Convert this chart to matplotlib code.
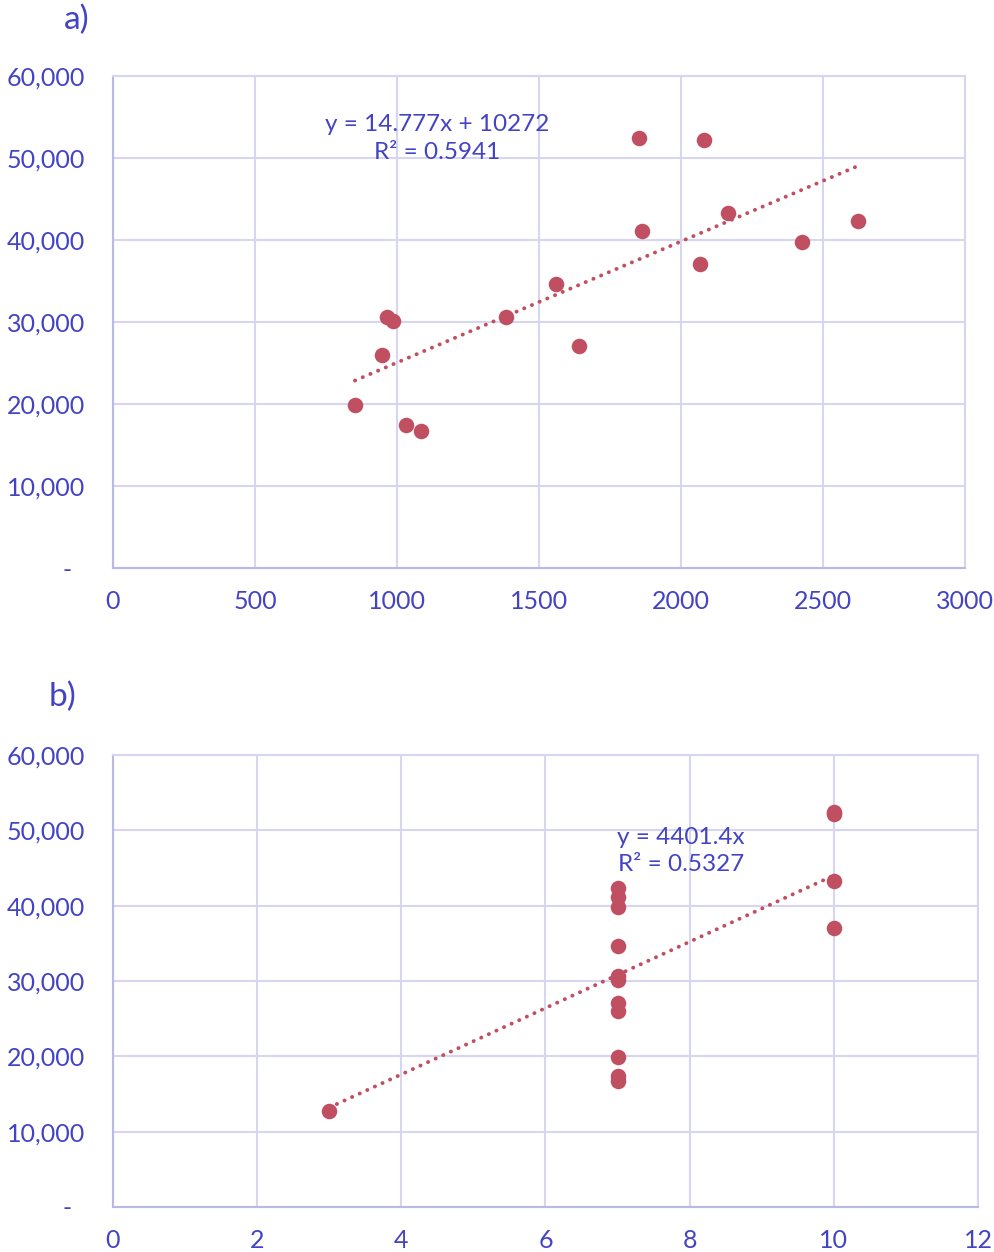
import matplotlib.pyplot as plt
import numpy as np

plt.rcParams['font.family'] = ['Lato', 'DejaVu Sans']

# panel a) data
a_x = [852, 947, 965, 986, 1032, 1085, 1384, 1560, 1641, 1852, 1863, 2067, 2081, 2165, 2426, 2623]
a_y = [19900, 26000, 30600, 30100, 17400, 16700, 30600, 34600, 27100, 52400, 41100, 37100, 52200, 43300, 39800, 42300]
a_slope, a_icpt = 14.777, 10272
a_eq = ['y = 14.777x + 10272', 'R² = 0.5941']

# panel b) data
b_x = [3, 7, 7, 7, 7, 7, 7, 7, 7, 7, 7, 7, 10, 10, 10, 10]
b_y = [12800, 42400, 41100, 39800, 34600, 30600, 30100, 27100, 26000, 19900, 17400, 16700,
       52400, 52200, 43300, 37100]
b_slope, b_icpt = 4401.4, 0
b_eq = ['y = 4401.4x', 'R² = 0.5327']

y_ticks = [0, 10000, 20000, 30000, 40000, 50000, 60000]
y_labels = ['-  ', '10,000', '20,000', '30,000', '40,000', '50,000', '60,000']

TXT = '#4343C4'
GRID = '#D6D6F2'
EDGE = '#B9B9E6'
DOT = '#C14F62'

W, H = 995, 1252
fig = plt.figure(figsize=(W / 100, H / 100), dpi=100)


def panel(rect, xs, ys, slope, icpt, eq, eq_pos, xlim, xticks, tag, tag_pos):
    l, r, t, b = rect
    ax = fig.add_axes([l / W, 1 - b / H, (r - l) / W, (b - t) / H])
    ax.set_xlim(*xlim)
    ax.set_ylim(0, 60000)
    ax.set_xticks(xticks)
    ax.set_xticklabels([str(v) for v in xticks])
    ax.set_yticks(y_ticks)
    ax.set_yticklabels(y_labels)
    ax.tick_params(length=0, colors=TXT, labelsize=18)
    ax.tick_params(axis='x', pad=16)
    ax.tick_params(axis='y', pad=20)
    ax.grid(True, color=GRID, lw=1.5)
    ax.set_axisbelow(True)
    for s in ['top', 'right']:
        ax.spines[s].set_color(GRID)
        ax.spines[s].set_linewidth(1.5)
    for s in ['left', 'bottom']:
        ax.spines[s].set_color(EDGE)
        ax.spines[s].set_linewidth(1.5)

    xs = np.array(xs)
    lx = np.array([xs.min(), xs.max()])
    ax.plot(lx, slope * lx + icpt, color=DOT, lw=2.8, linestyle=(0, (0.05, 2.1)),
            dash_capstyle='round', zorder=2)
    ax.scatter(xs, ys, s=125, color=DOT, zorder=3, linewidths=0)

    ex, ey1, ey2 = eq_pos
    ax.text(ex, ey1, eq[0], color=TXT, fontsize=17.5, ha='center', va='center', zorder=4)
    ax.text(ex, ey2, eq[1], color=TXT, fontsize=17.5, ha='center', va='center', zorder=4)
    fig.text(tag_pos[0] / W, 1 - tag_pos[1] / H, tag, color=TXT, fontsize=24,
             ha='center', va='center')
    return ax


panel((113, 965, 76, 568), a_x, a_y, a_slope, a_icpt, a_eq, (1141, 54100, 50700),
      (0, 3000), [0, 500, 1000, 1500, 2000, 2500, 3000], 'a)', (77, 20))
panel((113, 978, 755, 1207), b_x, b_y, b_slope, b_icpt, b_eq, (7.88, 49100, 45400),
      (0, 12), [0, 2, 4, 6, 8, 10, 12], 'b)', (63, 697))

fig.savefig('out.png', dpi=100)
